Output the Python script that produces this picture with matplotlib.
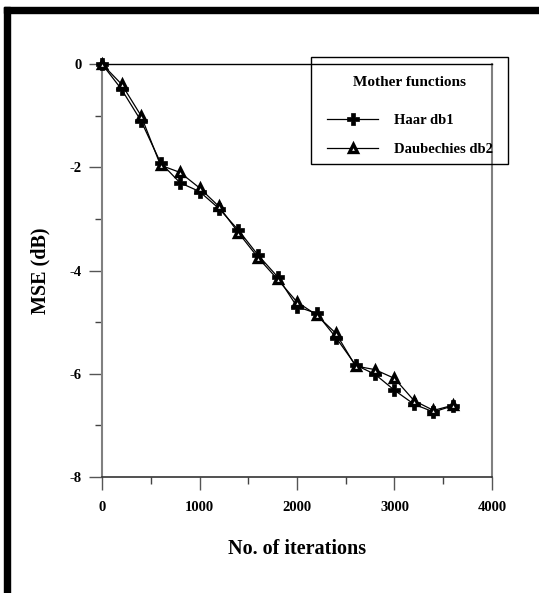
import matplotlib
matplotlib.use("Agg")
import matplotlib.pyplot as plt
from matplotlib.patches import Rectangle
from matplotlib.ticker import MultipleLocator

plt.rcParams['font.family'] = ['Liberation Serif', 'DejaVu Serif']
plt.rcParams['font.weight'] = 'bold'
plt.rcParams['axes.unicode_minus'] = False

# data
iterations = [0, 200, 400, 600, 800, 1000, 1200, 1400, 1600, 1800,
              2000, 2200, 2400, 2600, 2800, 3000, 3200, 3400, 3600]
haar_db1 = [0.0, -0.49, -1.10, -1.91, -2.30, -2.47, -2.80, -3.22, -3.70, -4.12,
            -4.70, -4.83, -5.30, -5.83, -6.01, -6.32, -6.59, -6.74, -6.62]
daub_db2 = [0.0, -0.39, -1.00, -1.96, -2.10, -2.40, -2.76, -3.27, -3.75, -4.17,
            -4.61, -4.86, -5.22, -5.85, -5.92, -6.09, -6.52, -6.71, -6.61]
x_ticks = [0, 1000, 2000, 3000, 4000]
y_ticks = [0, -2, -4, -6, -8]

W, H = 539, 593
fig = plt.figure(figsize=(W / 100, H / 100), dpi=100)
ax = fig.add_axes([102 / W, 1 - 477 / H, 390 / W, 413 / H])

ax.plot(iterations, haar_db1, color='black', lw=0.9, marker='P',
        markersize=8.5, markerfacecolor='black', markeredgecolor='black',
        markeredgewidth=0.5, label='Haar db1', clip_on=False, zorder=3)
ax.plot(iterations, daub_db2, color='black', lw=0.9, marker='^',
        markersize=6, markerfacecolor='white', markeredgecolor='black',
        markeredgewidth=2.4, label='Daubechies db2', clip_on=False, zorder=3)

ax.set_xlim(0, 4000)
ax.set_ylim(-8, 0)
ax.set_xticks(x_ticks)
ax.set_yticks(y_ticks)
ax.set_xticklabels([str(v) for v in x_ticks])
ax.set_yticklabels([str(v) for v in y_ticks])
ax.xaxis.set_minor_locator(MultipleLocator(500))
ax.yaxis.set_minor_locator(MultipleLocator(1))

ax.tick_params(axis='both', which='major', direction='out', length=9.5,
               width=1, labelsize=10.5, color='#555555')
ax.tick_params(axis='x', which='major', pad=8)
ax.tick_params(axis='y', which='major', pad=5)
ax.tick_params(axis='both', which='minor', direction='out', length=5,
               width=1, color='#444444')

for side in ['left', 'right']:
    ax.spines[side].set_color('#808080')
    ax.spines[side].set_linewidth(1.5)
ax.spines['top'].set_color('black')
ax.spines['top'].set_linewidth(1)
ax.spines['bottom'].set_color('#333333')
ax.spines['bottom'].set_linewidth(1.2)

ax.set_xlabel('No. of iterations', fontsize=14.5, fontweight='bold', labelpad=18)
ax.set_ylabel('MSE (dB)', fontsize=14.5, fontweight='bold', labelpad=14)

# legend: entries via ax.legend, box and title drawn around them
leg = ax.legend(loc='upper left', frameon=False,
                bbox_to_anchor=(327 / W, 1 - 114 / H), bbox_transform=fig.transFigure,
                borderaxespad=0, borderpad=0, fontsize=10.5,
                handlelength=3.5, handletextpad=1.1, labelspacing=1.1)
fig.patches.append(Rectangle((311 / W, 1 - 164 / H), 197 / W, 107 / H,
                             transform=fig.transFigure, facecolor='none',
                             edgecolor='black', linewidth=1))
fig.text(409.5 / W, 1 - 83 / H, 'Mother functions', ha='center', va='center',
         fontsize=11, fontweight='bold')

# black frame from the original scan
fig.patches.append(Rectangle((4 / W, 1 - 13 / H), 1, 6 / H,
                             transform=fig.transFigure, color='black'))
fig.patches.append(Rectangle((4 / W, 0), 6 / W, 1 - 7 / H,
                             transform=fig.transFigure, color='black'))

fig.savefig('out.png', dpi=100)
